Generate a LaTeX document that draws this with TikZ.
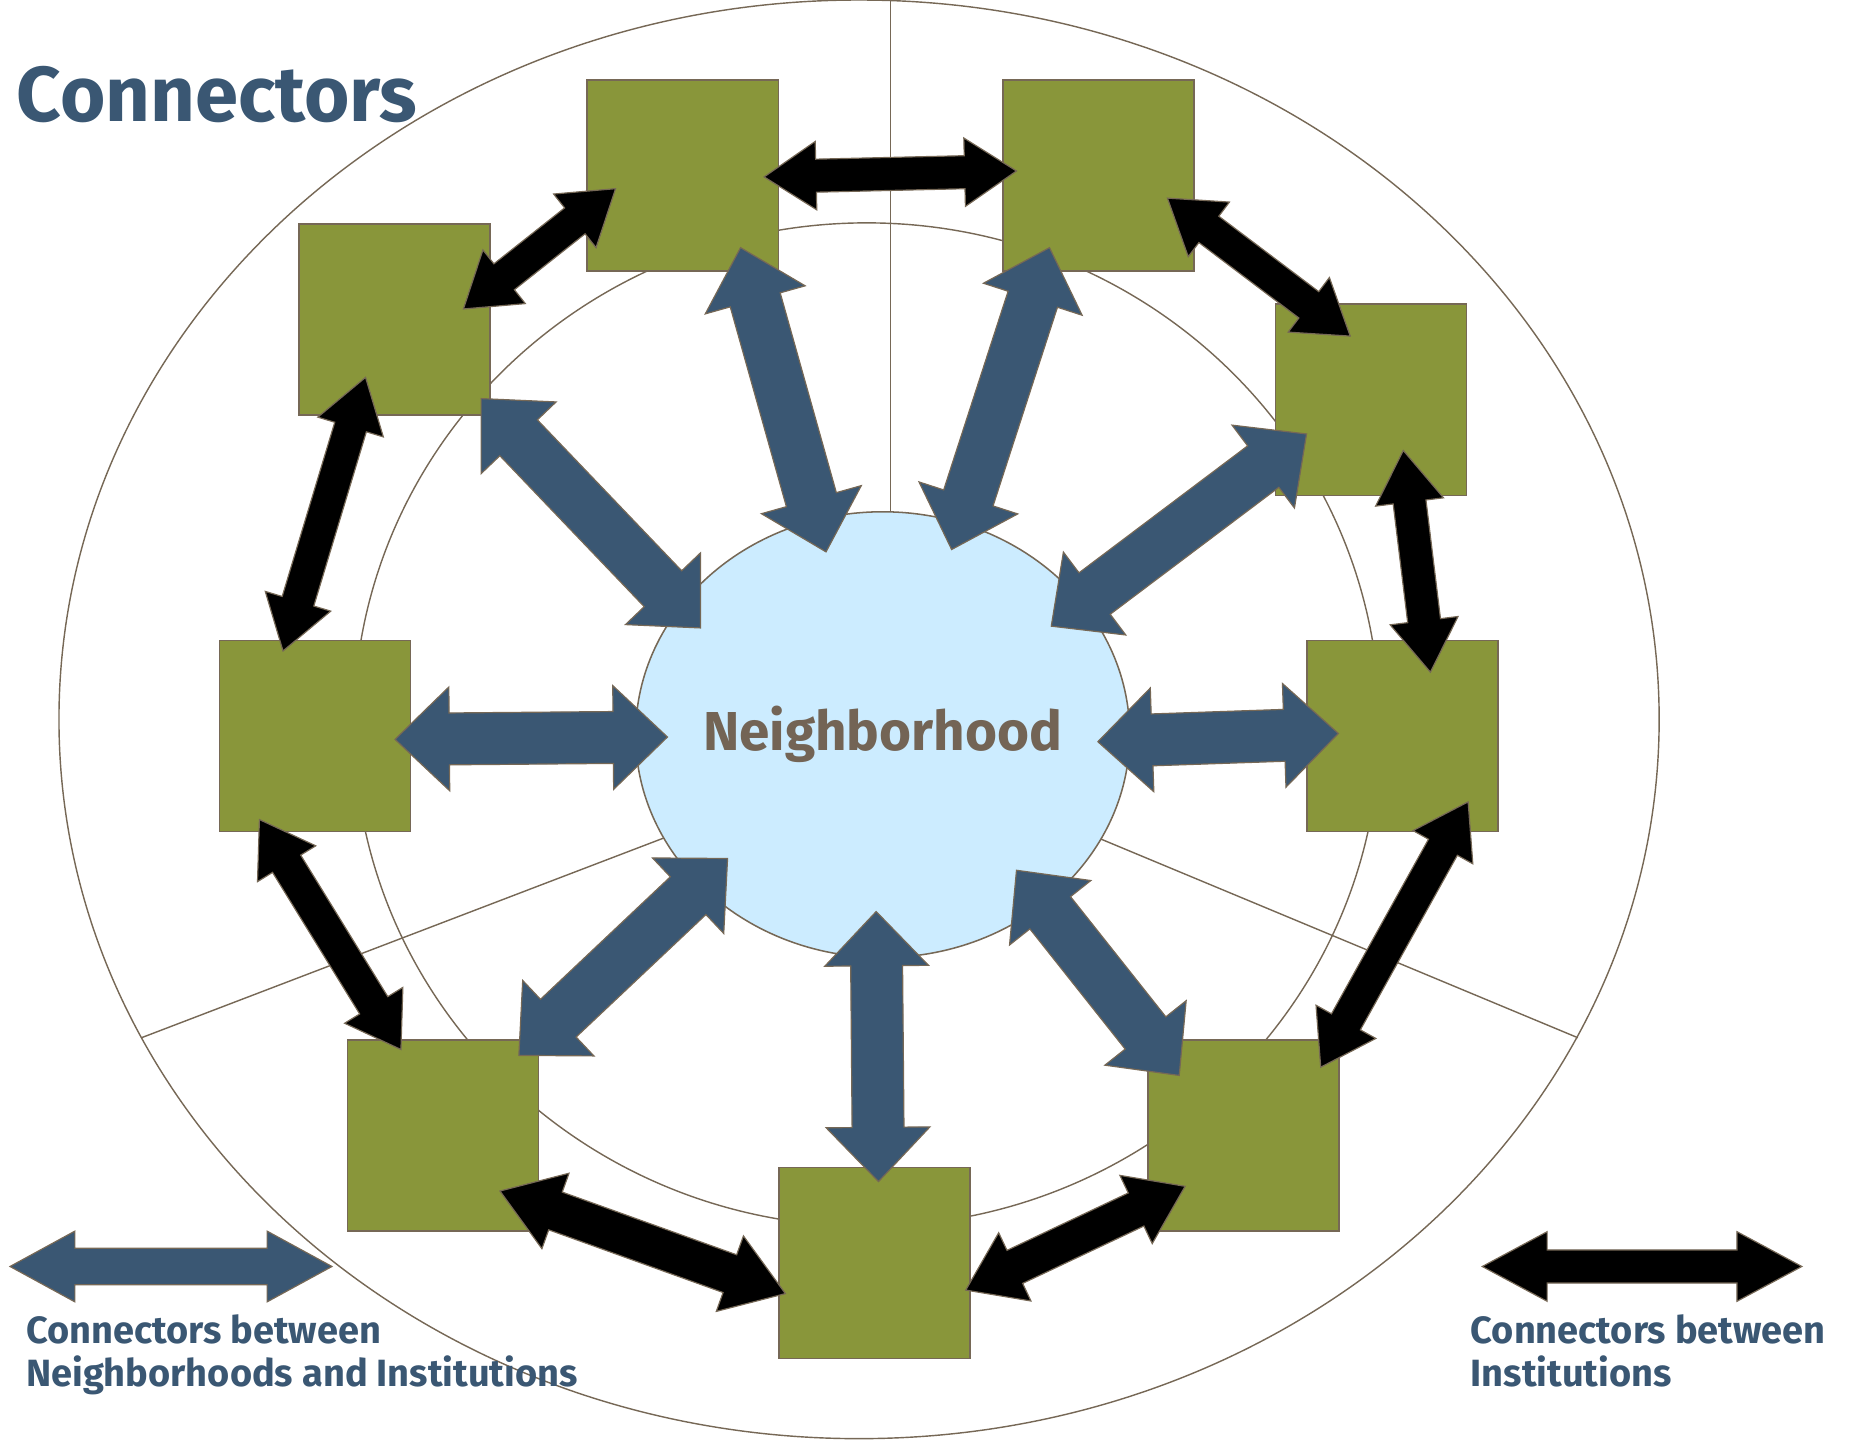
\documentclass[tikz,border=0pt]{standalone}
\usepackage{fontspec}
\setmainfont{Fira Sans}
\usepackage{tikz}
\usetikzlibrary{shapes,calc}
\definecolor{cnblue}{RGB}{58,87,115}
\definecolor{cngreen}{RGB}{137,150,58}
\definecolor{cnsky}{RGB}{204,236,255}
\definecolor{cnbrown}{RGB}{118,104,86}
\definecolor{cntext}{RGB}{115,100,85}
\tikzstyle{ring} = [draw=cnbrown, line width=1.2pt]
\tikzstyle{hood} = [ellipse, minimum width=419pt, minimum height=378pt, inner sep=0pt, draw=cnbrown, fill=cnsky, line width=1.3pt]
\tikzstyle{hoodtext} = [text=cntext, font=\fontsize{46.5}{50}\selectfont\bfseries]
\tikzstyle{institution} = [rectangle, minimum width=162pt, minimum height=162pt, inner sep=0pt, draw=cnbrown, fill=cngreen, line width=1.3pt]
\tikzstyle{hoodlink} = [fill=cnblue, draw=cnbrown, line width=1pt]
\tikzstyle{instlink} = [fill=black, draw=cnbrown, line width=1pt]
\tikzstyle{title} = [anchor=base west, inner sep=0pt, text=cnblue, font=\fontsize{66}{72}\selectfont\bfseries]
\tikzstyle{keytext} = [anchor=base west, inner sep=0pt, align=left, text=cnblue, font=\fontsize{32.2}{36.6}\selectfont\bfseries]
% fat double arrow: style, shaft half width, head half width, head length, from, to
\newcommand{\fatlink}[6]{%
  \path (#5) coordinate (fa) (#6) coordinate (fb);
  \filldraw[#1] let \p1=($(fb)-(fa)$), \n1={atan2(\y1,\x1)} in
    (fa) -- ($(fa)+(\n1:#4)+(\n1+90:#3)$) -- ($(fa)+(\n1:#4)+(\n1+90:#2)$)
    -- ($(fb)+(\n1+180:#4)+(\n1+90:#2)$) -- ($(fb)+(\n1+180:#4)+(\n1+90:#3)$)
    -- (fb)
    -- ($(fb)+(\n1+180:#4)+(\n1-90:#3)$) -- ($(fb)+(\n1+180:#4)+(\n1-90:#2)$)
    -- ($(fa)+(\n1:#4)+(\n1-90:#2)$) -- ($(fa)+(\n1:#4)+(\n1-90:#3)$) -- cycle;
}

\begin{document}
\begin{tikzpicture}[x=1pt, y=-1pt]
\useasboundingbox (0,0) rectangle (1568,1221);
% Rings
\draw[ring] (728.5,610) ellipse [x radius=678.5pt, y radius=610pt];
\draw[ring] (735,614.5) ellipse [x radius=435pt, y radius=425.5pt];
\draw[ring] (755,0) -- (755,620);
\draw[ring] (120,880) -- (745,641);
\draw[ring] (1338,880) -- (745,633);

% Nodes
\node (hood) [hood, label={[hoodtext]center:Neighborhood}] at (748.5,623) {};
\node (inst1) [institution] at (579,149) {};
\node (inst2) [institution] at (931.5,149) {};
\node (inst3) [institution] at (334.5,271) {};
\node (inst4) [institution] at (1162.5,339) {};
\node (inst5) [institution] at (267,624) {};
\node (inst6) [institution] at (1189.5,624) {};
\node (inst7) [institution] at (375.5,963) {};
\node (inst8) [institution] at (1054.5,963) {};
\node (inst9) [institution] at (741.5,1071) {};

% Arrows - neighborhood to institutions
\fatlink{hoodlink}{22pt}{44pt}{46pt}{$(hood)+(-48,-155)$}{$(inst1)+(49,61)$}
\fatlink{hoodlink}{22pt}{44pt}{46pt}{$(hood)+(58.5,-157)$}{$(inst2)+(-41.5,61)$}
\fatlink{hoodlink}{22pt}{44pt}{46pt}{$(hood)+(-154.5,-90.5)$}{$(inst3)+(73.5,67)$}
\fatlink{hoodlink}{22pt}{44pt}{46pt}{$(hood)+(143,-92)$}{$(inst4)+(-54.5,29)$}
\fatlink{hoodlink}{22pt}{44pt}{46pt}{$(hood)+(-182.5,2)$}{$(inst5)+(68,3)$}
\fatlink{hoodlink}{22pt}{44pt}{46pt}{$(hood)+(182.5,6)$}{$(inst6)+(-54.5,-2)$}
\fatlink{hoodlink}{22pt}{44pt}{46pt}{$(hood)+(-131.5,105)$}{$(inst7)+(64.5,-68)$}
\fatlink{hoodlink}{22pt}{44pt}{46pt}{$(hood)+(113.5,115)$}{$(inst8)+(-54.5,-51)$}
\fatlink{hoodlink}{22pt}{44pt}{46pt}{$(hood)+(-5.5,150)$}{$(inst9)+(3.5,-69)$}

% Arrows - institution to institution
\fatlink{instlink}{14pt}{29pt}{44pt}{$(inst1)+(69,1)$}{$(inst2)+(-69.5,-4)$}
\fatlink{instlink}{14pt}{29pt}{44pt}{$(inst2)+(58.5,19)$}{$(inst4)+(-17.5,-54)$}
\fatlink{instlink}{14pt}{29pt}{44pt}{$(inst4)+(27.5,43)$}{$(inst6)+(23.5,-54)$}
\fatlink{instlink}{14pt}{29pt}{44pt}{$(inst6)+(55.5,56)$}{$(inst8)+(65.5,-58)$}
\fatlink{instlink}{15.5pt}{32pt}{46pt}{$(inst8)+(-49.5,43)$}{$(inst9)+(77.5,23)$}
\fatlink{instlink}{17pt}{34pt}{50pt}{$(inst9)+(-75.5,26)$}{$(inst7)+(48.5,47)$}
\fatlink{instlink}{14pt}{29pt}{44pt}{$(inst7)+(-35.5,-73)$}{$(inst5)+(-47,71)$}
\fatlink{instlink}{14pt}{29pt}{44pt}{$(inst5)+(-27,-72)$}{$(inst3)+(-24.5,49)$}
\fatlink{instlink}{14pt}{29pt}{44pt}{$(inst3)+(58.5,-9)$}{$(inst1)+(-57,11)$}

% Legend
\coordinate (hoodkeyl) at (8.5,1074);
\coordinate (hoodkeyr) at (281.5,1074);
\fatlink{hoodlink}{15.5pt}{30pt}{55pt}{hoodkeyl}{hoodkeyr}
\coordinate (instkeyl) at (1257,1074);
\coordinate (instkeyr) at (1528,1074);
\fatlink{instlink}{14pt}{29.5pt}{55pt}{instkeyl}{instkeyr}

\node (title) [title] at (14,103) {Connectors};
\node (hoodkey) [keytext] at (22,1175.5) {Connectors between\\Neighborhoods and Institutions};
\node (instkey) [keytext] at (1247,1175.5) {Connectors between\\Institutions};
\end{tikzpicture}
\end{document}
